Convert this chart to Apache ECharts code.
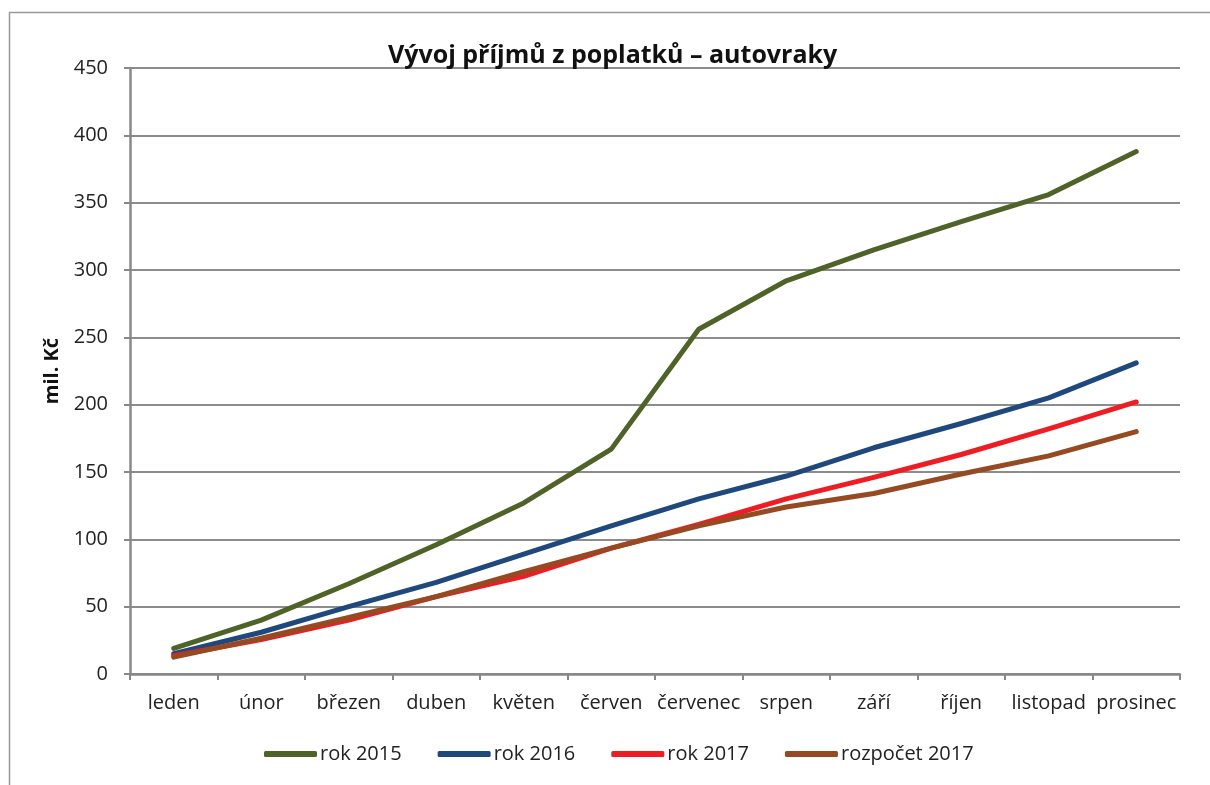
<!DOCTYPE html>
<html>
<head>
<meta charset="utf-8">
<script src="https://cdn.jsdelivr.net/npm/echarts@6/dist/echarts.min.js"></script>
<style>html,body{margin:0;padding:0;background:#fff}#c{width:1210px;height:785px}</style>
</head>
<body>
<div id="c"></div>
<script>
const categories = ['leden','únor','březen','duben','květen','červen','červenec','srpen','září','říjen','listopad','prosinec'];
const rok2015 = [19, 40, 67, 96, 127, 167, 256, 292, 315, 336, 356, 388];
const rok2016 = [15, 31, 50, 68, 89, 110, 130, 147, 168, 186, 205, 231];
const rok2017 = [13.5, 25.5, 40, 57.5, 72.5, 93.5, 111, 130, 146, 163, 182, 202];
const rozpocet2017 = [12.5, 26.5, 42, 57.5, 76, 93.5, 110, 124, 134, 148.5, 162, 180];
const yTicks = {min: 0, max: 450, interval: 50};

const FONT = '"Open Sans", "Noto Sans", sans-serif';
const chart = echarts.init(document.getElementById('c'), null, {renderer: 'canvas'});
function line(name, data, color) {
  return {
    name, type: 'line', data, showSymbol: false, symbol: 'none',
    lineStyle: {color, width: 5, cap: 'round', join: 'round'},
    itemStyle: {color}, animation: false, z: 3
  };
}
chart.setOption({
  animation: false,
  backgroundColor: '#fff',
  textStyle: {fontFamily: FONT},
  title: {
    text: 'Vývoj příjmů z poplatků – autovraky',
    left: 383, top: 38,
    textStyle: {fontFamily: FONT, fontSize: 25, fontWeight: 'bold', color: '#111'}
  },
  grid: {left: 130, right: 30, top: 68, bottom: 111, containLabel: false},
  legend: {
    bottom: 16, left: 259,
    itemWidth: 53, itemHeight: 6, itemGap: 36,
    icon: 'roundRect',
    textStyle: {fontFamily: FONT, fontSize: 20, color: '#222', padding: [0,0,0,-2]},
    data: ['rok 2015','rok 2016','rok 2017','rozpočet 2017']
  },
  xAxis: {
    type: 'category', data: categories, boundaryGap: true,
    axisLine: {lineStyle: {color: '#888', width: 2.5}},
    axisTick: {show: true, length: 6, alignWithLabel: false, lineStyle: {color: '#888', width: 2}},
    axisLabel: {fontFamily: FONT, fontSize: 20, color: '#222', margin: 19, interval: 0},
    splitLine: {show: false}
  },
  yAxis: {
    type: 'value', min: yTicks.min, max: yTicks.max, interval: yTicks.interval,
    name: 'mil. Kč', nameLocation: 'middle', nameGap: 62, nameRotate: 90,
    nameTextStyle: {fontFamily: FONT, fontSize: 20, fontWeight: 'bold', color: '#111'},
    axisLine: {show: true, lineStyle: {color: '#888', width: 2.5}},
    axisTick: {show: true, inside: false, length: 6, lineStyle: {color: '#888', width: 2}},
    axisLabel: {fontFamily: FONT, fontSize: 20, color: '#222', margin: 22},
    splitLine: {show: true, lineStyle: {color: '#8c8c8c', width: 2}}
  },
  graphic: [{
    type: 'polyline', silent: true,
    shape: {points: [[9.5, 785], [9.5, 12.5], [1210, 12.5]]},
    style: {stroke: '#999', lineWidth: 1.5, fill: null}
  }],
  series: [
    line('rok 2015', rok2015, '#4F6228'),
    line('rok 2016', rok2016, '#1F497D'),
    line('rok 2017', rok2017, '#EE1D23'),
    line('rozpočet 2017', rozpocet2017, '#954A22')
  ]
});
</script>
</body>
</html>
